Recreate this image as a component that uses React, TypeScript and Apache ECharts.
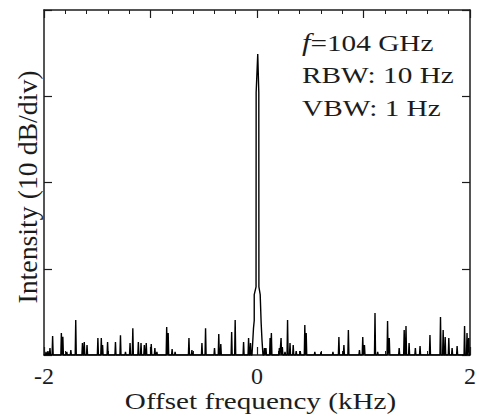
import React, { useEffect, useRef } from "react";
import * as echarts from "echarts";

// Offset frequency (kHz) of the noise spikes, and their level (dB above floor)
const noiseFreq = [
  -1.981, -1.963, -1.944, -1.919, -1.837, -1.823, -1.786, -1.748, -1.702, -1.639,
  -1.622, -1.596, -1.494, -1.462, -1.45, -1.403, -1.329, -1.282, -1.235, -1.192,
  -1.166, -1.114, -1.089, -1.058, -1.04, -0.993, -0.959, -0.94, -0.848, -0.834,
  -0.797, -0.769, -0.639, -0.611, -0.517, -0.483, -0.399, -0.359, -0.34, -0.238,
  -0.205, -0.126, -0.079, -0.061,
  0.07, 0.084, 0.123, 0.135, 0.21, 0.226, 0.238, 0.263, 0.287, 0.31,
  0.34, 0.368, 0.406, 0.449, 0.462, 0.543, 0.601, 0.713, 0.769, 0.816,
  0.858, 0.962, 0.993, 1.009, 1.108, 1.133, 1.226, 1.242, 1.335, 1.382,
  1.399, 1.428, 1.487, 1.531, 1.624, 1.723, 1.748, 1.767, 1.801, 1.832,
  1.879, 1.949, 1.972, 1.988,
];
const noiseLevel = [
  0.35, 0.46, 0.81, 2.2, 2.55, 2.1, 0.35, 0.58, 4.06, 1.39,
  1.5, 1.16, 1.97, 1.97, 1.16, 1.5, 1.5, 2.3, 0.35, 1.39,
  3.1, 1.5, 1.39, 1.16, 1.39, 1.28, 0.81, 0.35, 3.25, 2.55,
  0.7, 0.35, 1.97, 0.58, 1.39, 3.1, 0.81, 2.43, 1.28, 2.67,
  4.06, 1.5, 1.97, 1.39,
  0.81, 0.81, 1.97, 2.55, 0.81, 1.97, 0.93, 0.35, 4.06, 1.39,
  1.16, 0.46, 0.46, 3.48, 2.55, 0.35, 0.35, 0.35, 2.09, 1.16,
  2.9, 0.58, 2.09, 1.16, 4.87, 0.35, 3.94, 1.97, 0.81, 2.9,
  3.36, 1.39, 0.81, 1.04, 2.32, 4.4, 2.9, 2.09, 1.97, 0.81,
  1.04, 3.36, 2.55, 1.97,
];

// Carrier peak outline, in drawing order
const peakFreq = [-0.047, -0.033, -0.026, -0.026, -0.009, -0.008, 0.007, 0.017, 0.018, 0.03, 0.039, 0.047, 0.056];
const peakLevel = [0, 3.1, 4.0, 7.0, 7.9, 30.4, 34.9, 30.4, 7.9, 7.0, 3.7, 1.7, 0];

const xLabelValues = [-2, 0, 2];

const SPIKE_HALF = 0.005;
const FONT = '"Liberation Serif", "Times New Roman", serif';
const INK = "#1c1c1c";

export default function App() {
  const ref = useRef<HTMLDivElement>(null);

  useEffect(() => {
    if (!ref.current) return;
    const chart = echarts.init(ref.current, undefined, { renderer: "svg" });

    const before: [number, number][] = [[-2, 0]];
    const after: [number, number][] = [];
    noiseFreq.forEach((f, i) => {
      const seg: [number, number][] = [[f - SPIKE_HALF, 0], [f, noiseLevel[i]], [f + SPIKE_HALF, 0]];
      (f < 0 ? before : after).push(...seg);
    });
    after.push([2, 0]);
    const peak: [number, number][] = peakFreq.map((f, i) => [f, peakLevel[i]]);
    const data = [...before, ...peak, ...after];

    const xCommon = {
      type: "value" as const,
      min: -2,
      max: 2,
      interval: 1,
      axisLine: { show: true, onZero: false, lineStyle: { color: INK, width: 1.5 } },
      axisTick: { show: true, inside: true, length: 8, lineStyle: { color: INK, width: 1.2 } },
      minorTick: { show: true, splitNumber: 5, length: 4, lineStyle: { color: INK, width: 1 } },
      splitLine: { show: false },
    };
    const yCommon = {
      type: "value" as const,
      min: 0,
      max: 40,
      interval: 10,
      axisLine: { show: true, onZero: false, lineStyle: { color: INK, width: 1.5 } },
      axisTick: { show: true, inside: true, length: 8, lineStyle: { color: INK, width: 1.2 } },
      axisLabel: { show: false },
      splitLine: { show: false },
    };

    chart.setOption({
      animation: false,
      backgroundColor: "#fff",
      grid: { left: 44, right: 6, top: 10, bottom: 63, containLabel: false },
      xAxis: [
        {
          ...xCommon,
          position: "bottom",
          axisLabel: {
            show: true,
            margin: 9,
            color: INK,
            fontFamily: FONT,
            fontSize: 24,
            showMinLabel: true,
            showMaxLabel: true,
            formatter: (v: number) => (xLabelValues.includes(v) ? String(v) : ""),
          },
        },
        { ...xCommon, position: "top", axisLabel: { show: false } },
      ],
      yAxis: [
        { ...yCommon, position: "left" },
        { ...yCommon, position: "right" },
      ],
      series: [
        {
          type: "line",
          xAxisIndex: 0,
          yAxisIndex: 0,
          data,
          symbol: "none",
          showSymbol: false,
          lineStyle: { color: "#000", width: 1.4 },
          clip: true,
        },
      ],
      graphic: [
        {
          type: "text",
          x: 260.5,
          y: 401,
          scaleX: 1.24,
          style: {
            text: "Offset frequency (kHz)",
            fontFamily: FONT,
            fontSize: 23.5,
            fill: INK,
            textAlign: "center",
            textVerticalAlign: "middle",
          },
        },
        {
          type: "text",
          x: 28,
          y: 187,
          rotation: Math.PI / 2,
          scaleX: 1.03,
          style: {
            text: "Intensity (10 dB/div)",
            fontFamily: FONT,
            fontSize: 27,
            fill: INK,
            textAlign: "center",
            textVerticalAlign: "middle",
          },
        },
        {
          type: "text",
          x: 302,
          y: 26.5,
          scaleX: 1.22,
          style: {
            text: "{i|f}=104 GHz\nRBW: 10 Hz\nVBW: 1 Hz",
            fontFamily: FONT,
            fontSize: 24,
            lineHeight: 32.5,
            fill: INK,
            textAlign: "left",
            textVerticalAlign: "top",
            rich: {
              i: { fontFamily: FONT, fontSize: 25, fontStyle: "italic", lineHeight: 32.5, fill: INK },
            },
          },
        },
      ],
    });

    return () => chart.dispose();
  }, []);

  return (
    <div
      ref={ref}
      style={{ position: "fixed", left: 0, top: 0, width: 479, height: 418, background: "#fff" }}
    />
  );
}
